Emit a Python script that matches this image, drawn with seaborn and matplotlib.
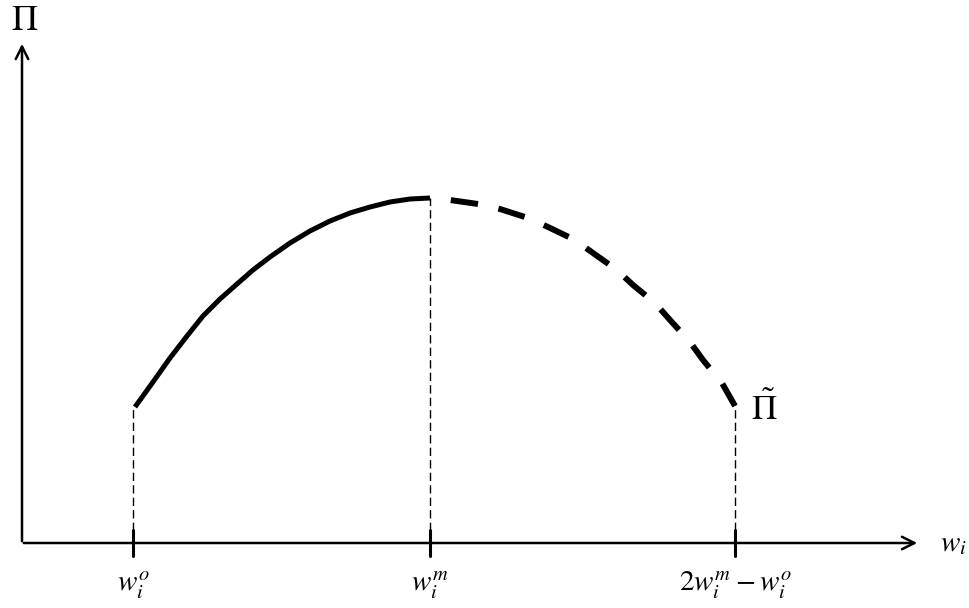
import pandas as pd
import matplotlib.pyplot as plt
import seaborn as sns

# Points (x position, height above the horizontal axis)
solid_x = [135, 153, 170, 187, 203, 220, 237, 253, 270, 290, 310, 330, 350, 370, 390, 410, 430]
solid_y = [136, 161, 185, 207, 227, 244, 259, 273, 286, 300, 312, 322, 330, 336, 341, 344, 345]
dash_x = [430, 450, 478, 500, 528, 548, 575, 593, 617, 633, 655, 670, 690, 703, 722, 735]
dash_y = [345, 343, 339, 334, 325, 316, 303, 290, 273, 258, 240, 223, 201, 183, 160, 137]

tick_x = [133, 430, 735]
tick_labels = [r'$w_i^o$', r'$w_i^m$', r'$2w_i^m - w_i^o$']
drop_y = [136, 345, 138]

sns.set_style('white')
plt.rcParams['mathtext.fontset'] = 'stix'
plt.rcParams['font.family'] = ['STIXGeneral', 'DejaVu Serif']

fig = plt.figure(figsize=(9.69, 6.08), dpi=100)
ax = fig.add_axes([0, 0, 1, 1])
ax.set_xlim(0, 969)
ax.set_ylim(-65, 543)
ax.axis('off')

solid = pd.DataFrame({'x': solid_x, 'y': solid_y})
dashed = pd.DataFrame({'x': dash_x, 'y': dash_y})
sns.lineplot(data=solid, x='x', y='y', color='black', lw=3.6, sort=False,
             ax=ax, solid_capstyle='butt', solid_joinstyle='round')
sns.lineplot(data=dashed, x='x', y='y', color='black', lw=4.3, sort=False, ax=ax)
line = ax.lines[-1]
line.set_linestyle((4.6, (4.6, 3.5)))
line.set_dash_capstyle('butt')

# axes with open arrow heads
ax.annotate('', xy=(22, 502), xytext=(22, -1),
            arrowprops=dict(arrowstyle='->,head_length=0.9,head_width=0.45', lw=1.8, color='black'))
ax.annotate('', xy=(920, 0), xytext=(21, 0),
            arrowprops=dict(arrowstyle='->,head_length=0.9,head_width=0.45', lw=1.8, color='black'))

# dashed drop lines and tick marks
for x, y, lab in zip(tick_x, drop_y, tick_labels):
    ax.plot([x, x], [0, y], color='black', lw=1.0, ls=(0, (6, 3)))
    ax.plot([x, x], [-13, 13], color='black', lw=2.2)
    ax.text(x, -42, lab, ha='center', va='center', fontsize=21, color='black')

ax.text(940, -2, r'$w_i$', ha='left', va='center', fontsize=21, color='black')
ax.text(11, 522, r'$\Pi$', ha='left', va='center', fontsize=26, color='black')
ax.text(751, 133, r'$\tilde{\Pi}$', ha='left', va='center', fontsize=25, color='black')

fig.savefig('out.png', dpi=100)
